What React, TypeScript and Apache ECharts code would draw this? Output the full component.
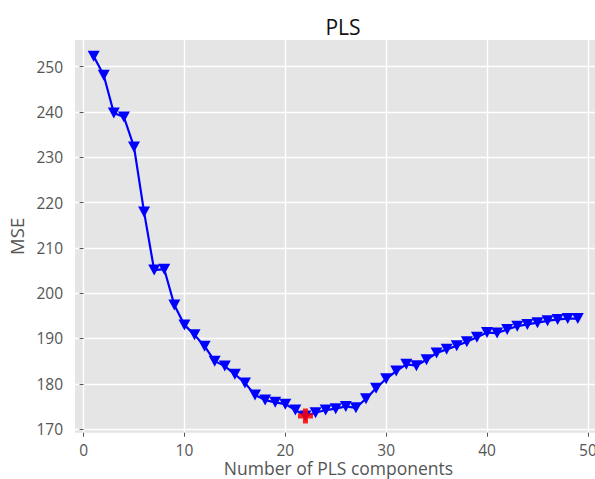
import React, { useEffect, useRef } from "react";
import * as echarts from "echarts";

const components: number[] = Array.from({ length: 49 }, (_, i) => i + 1);
const mse: number[] = [
  252.3, 248.1, 239.8, 238.9, 232.3, 217.9, 205.1, 205.3, 197.4, 193.0,
  190.8, 188.3, 185.0, 183.9, 182.1, 180.2, 177.5, 176.4, 175.9, 175.5,
  174.2, 172.9, 173.6, 174.2, 174.5, 175.0, 174.7, 176.7, 179.0, 181.1,
  182.8, 184.3, 184.0, 185.3, 186.8, 187.6, 188.4, 189.3, 190.3, 191.3,
  191.2, 192.0, 192.7, 193.1, 193.5, 193.9, 194.2, 194.4, 194.4,
];
const xTicks: number[] = [0, 10, 20, 30, 40, 50];
const yTicks: number[] = [170, 180, 190, 200, 210, 220, 230, 240, 250];

const FONT = "Open Sans";
const PLUS = "path://M1,0H2V1H3V2H2V3H1V2H0V1H1Z";

export default function App() {
  const ref = useRef<HTMLDivElement>(null);
  useEffect(() => {
    if (!ref.current) return;
    const chart = echarts.init(ref.current, undefined, { renderer: "svg" });
    let best = 0;
    mse.forEach((v, i) => {
      if (v < mse[best]) best = i;
    });
    chart.setOption({
      animation: false,
      backgroundColor: "#ffffff",
      title: {
        text: "PLS",
        left: 338,
        top: 11,
        textAlign: "center",
        textStyle: { fontFamily: FONT, fontSize: 21, fontWeight: "normal", color: "#111" },
      },
      grid: {
        left: 75,
        right: -7,
        top: 40,
        bottom: 46.3,
        outerBoundsMode: "none",
        containLabel: false,
        show: true,
        backgroundColor: "#E5E5E5",
        borderWidth: 0,
      },
      xAxis: {
        type: "value",
        min: -0.85,
        max: 51.4,
        name: "Number of PLS components",
        nameLocation: "middle",
        nameGap: 25.5,
        nameMoveOverlap: false,
        nameTextStyle: { fontFamily: FONT, fontSize: 17.5, color: "#555555", lineHeight: 19, verticalAlign: "top" },
        axisLine: { show: false },
        axisTick: { show: true, length: 4, lineStyle: { color: "#555555", width: 1 }, customValues: xTicks },
        axisLabel: { fontFamily: FONT, fontSize: 15.5, lineHeight: 16, color: "#555555", margin: 9, customValues: xTicks, hideOverlap: false },
        splitLine: { show: true, lineStyle: { color: "#ffffff", width: 1.4 } },
      },
      yAxis: {
        type: "value",
        min: 169.2,
        max: 255.9,
        name: "MSE",
        nameLocation: "middle",
        nameGap: 49,
        nameMoveOverlap: false,
        nameTextStyle: { fontFamily: FONT, fontSize: 18.5, color: "#555555" },
        axisLine: { show: false },
        axisTick: { show: true, length: 4, lineStyle: { color: "#555555", width: 1 }, customValues: yTicks },
        axisLabel: { fontFamily: FONT, fontSize: 15.5, color: "#555555", margin: 12, customValues: yTicks },
        splitLine: { show: true, lineStyle: { color: "#ffffff", width: 1.4 } },
      },
      series: [
        {
          type: "line",
          data: components.map((c, i) => [c, mse[i]]),
          symbol: "triangle",
          symbolRotate: 180,
          symbolSize: [12, 11],
          itemStyle: { color: "#0000ff" },
          lineStyle: { color: "#0000ff", width: 2.2 },
          z: 2,
        },
        {
          type: "scatter",
          data: [[components[best], mse[best]]],
          symbol: PLUS,
          symbolSize: 15,
          itemStyle: { color: "#ff0000", opacity: 0.85 },
          z: 3,
        },
      ],
    });
    return () => chart.dispose();
  }, []);
  return (
    <div
      ref={ref}
      style={{ position: "absolute", left: 0, top: 0, width: 595, height: 479 }}
    />
  );
}
